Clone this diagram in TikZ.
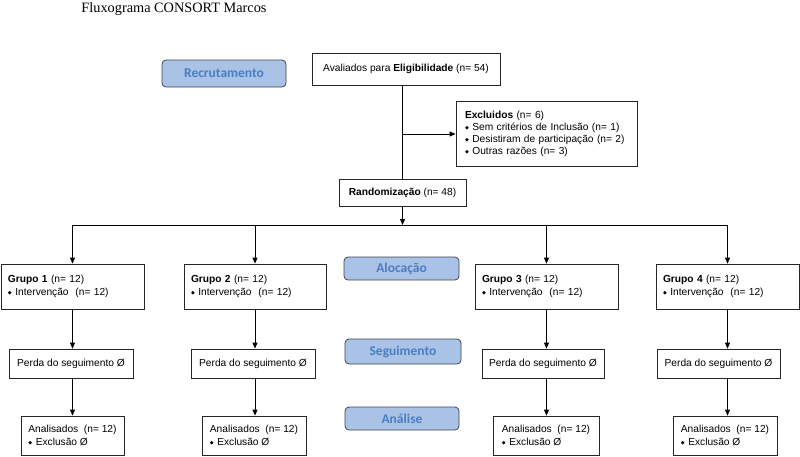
\documentclass[tikz,border=0pt]{standalone}
\usepackage{fontspec}
\setmainfont{Liberation Sans}
\newfontfamily\titlefont{Liberation Serif}
\newfontfamily\labfont{Carlito}
\newfontfamily\symfont{DejaVu Sans}
\usetikzlibrary{arrows.meta}
\definecolor{labfill}{HTML}{A9C2E6}
\definecolor{labtext}{HTML}{4A7EC2}
\definecolor{labdraw}{HTML}{3C4652}
\newcommand{\bul}{{\symfont\fontsize{5}{6}\selectfont\raisebox{0.8pt}{◆}}\hspace{3.5pt}}
\tikzset{
  x=1pt,y=-1pt,
  wbox/.style={draw=black!85,line width=0.8pt,fill=white,inner sep=0pt,
    font=\fontsize{10.2}{13}\selectfont},
  lab/.style={draw=labdraw,line width=0.8pt,fill=labfill,rounded corners=4pt,
    text=labtext,font=\labfont\bfseries\fontsize{13.5}{15}\selectfont,
    minimum width=116pt,minimum height=24pt,inner sep=0pt},
  arr/.style={line width=0.9pt,-{Triangle[length=6pt,width=5pt]}},
  ln/.style={line width=0.9pt}
}
\begin{document}
\begin{tikzpicture}
\useasboundingbox (0,0) rectangle (800,456);
\node[font=\titlefont\fontsize{14.3}{16}\selectfont] (title) at (174,9) {Fluxograma CONSORT Marcos};

\node[lab,minimum width=124pt,minimum height=27pt] (recr) at (224,73.5) {Recrutamento};
\node[lab,minimum width=115pt,minimum height=23pt] (aloc) at (401.5,268.5) {Alocação};
\node[lab,minimum width=116pt,minimum height=25pt] (segu) at (403,351.5) {Seguimento};
\node[lab,minimum width=114pt,minimum height=23pt] (anal) at (402,418.5) {Análise};

\node[wbox,minimum width=188pt,minimum height=32pt] (elig) at (406,69)
  {Avaliados para \textbf{Eligibilidade} (n= 54)};
\node[wbox,minimum width=181pt,minimum height=65pt,text width=163pt,align=left] (excl) at (546.5,133.5)
  {\textbf{Excluidos} (n= 6)\\[-1pt]
   \bul Sem critérios de Inclusão (n= 1)\\[-1pt]
   \bul Desistiram de participação (n= 2)\\[-1pt]
   \bul Outras razões (n= 3)};
\node[wbox,minimum width=127pt,minimum height=27pt] (rand) at (402.5,192.5)
  {\textbf{Randomização} (n= 48)};

\foreach \i/\x/\w/\px/\pw/\ax/\aw in {1/72.5/143/71/124/72.5/103, 2/255/142/253/124/254/104, 3/546.5/143/543/122/546/106, 4/727.5/143/718.5/123/725/104}{
  \node[wbox,minimum width=\w pt,minimum height=45pt,text width=\w pt-14pt,align=left] (g\i) at (\x,286.5)
    {\textbf{Grupo \i} (n= 12)\\ \bul Intervenção\ \ (n= 12)};
  \node[wbox,minimum width=\pw pt,minimum height=29pt] (p\i) at (\px,363.5)
    {Perda do seguimento Ø};
  \node[wbox,minimum width=\aw pt,minimum height=39pt,align=left] (a\i) at (\ax,435.5)
    {Analisados\ \ (n= 12)\\ \bul Exclusão Ø};
}

\coordinate (brk) at (402,134);
\coordinate (bl) at (72.5,225);
\coordinate (br) at (727.5,225);
\draw[ln] (elig.south -| rand.north) -- (rand.north);
\draw[arr] (brk) -- (brk -| excl.west);
\draw[arr] (rand.south) -- (rand.south |- bl);
\draw[ln] (bl) -- (br);
\foreach \i in {1,2,3,4}{
  \draw[arr] (g\i.north |- bl) -- (g\i.north);
  \draw[arr] (g\i.south) -- (g\i.south |- p\i.north);
  \draw[arr] (g\i.south |- p\i.south) -- (g\i.south |- a\i.north);
}
\end{tikzpicture}
\end{document}
